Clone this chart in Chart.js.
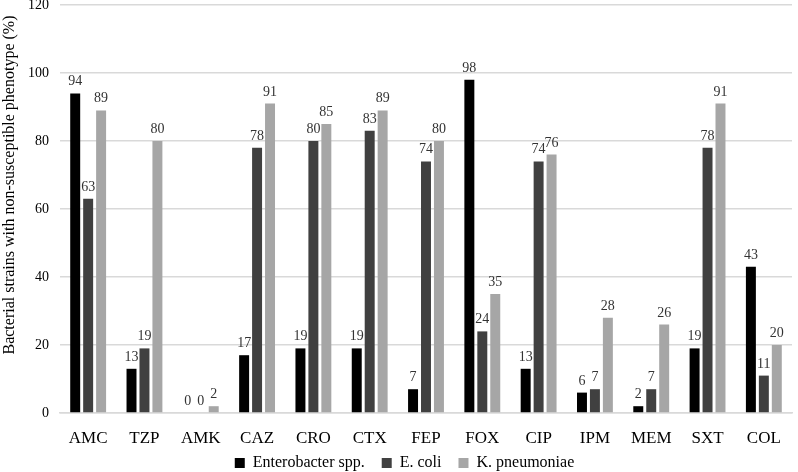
<!DOCTYPE html>
<html>
<head>
<meta charset="utf-8">
<script src="https://cdn.jsdelivr.net/npm/chart.js@4/dist/chart.umd.min.js"></script>
<style>
  html, body { margin: 0; padding: 0; background: #fff; }
  #wrap { width: 798px; height: 472px; position: relative; }
</style>
</head>
<body>
<div id="wrap"><canvas id="c"></canvas></div>
<script>
// ── Dados ───────────────────────────────────────────────
const categorias = ['AMC', 'TZP', 'AMK', 'CAZ', 'CRO', 'CTX', 'FEP', 'FOX', 'CIP', 'IPM', 'MEM', 'SXT', 'COL'];
const enterobacter = [94, 13, 0, 17, 19, 19, 7, 98, 13, 6, 2, 19, 43];
const ecoli =        [63, 19, 0, 78, 80, 83, 74, 24, 74, 7, 7, 78, 11];
const kpneumoniae =  [89, 80, 2, 91, 85, 89, 80, 35, 76, 28, 26, 91, 20];
const yTicks = [0, 20, 40, 60, 80, 100, 120];
const yTitulo = 'Bacterial strains with non-susceptible phenotype (%)';

const FONT = '"Liberation Serif", "Times New Roman", serif';

// ── Rótulos acima das barras ────────────────────────────
const valueLabels = {
  id: 'valueLabels',
  afterDatasetsDraw(chart) {
    const ctx = chart.ctx;
    ctx.save();
    ctx.font = '14px ' + FONT;
    ctx.fillStyle = '#333';
    ctx.textAlign = 'center';
    ctx.textBaseline = 'alphabetic';
    chart.data.datasets.forEach((ds, i) => {
      chart.getDatasetMeta(i).data.forEach((bar, j) => {
        ctx.fillText(String(ds.data[j]), bar.x, bar.y - 8);
      });
    });
    ctx.restore();
  }
};

// ── Título do eixo Y (desenhado à mão p/ posicionar como no original) ──
const yTitle = {
  id: 'yTitle',
  afterDraw(chart) {
    const ctx = chart.ctx;
    ctx.save();
    ctx.font = '16px ' + FONT;
    ctx.fillStyle = '#000';
    ctx.textAlign = 'center';
    ctx.textBaseline = 'middle';
    ctx.translate(10, 185);
    ctx.rotate(-Math.PI / 2);
    ctx.fillText(yTitulo, 0, 0);
    ctx.restore();
  }
};

new Chart(document.getElementById('c'), {
  type: 'bar',
  data: {
    labels: categorias,
    datasets: [
      { label: 'Enterobacter spp.', data: enterobacter, backgroundColor: '#000000' },
      { label: 'E. coli', data: ecoli, backgroundColor: '#404040' },
      { label: 'K. pneumoniae', data: kpneumoniae, backgroundColor: '#a6a6a6' },
    ]
  },
  options: {
    responsive: true,
    maintainAspectRatio: false,
    animation: false,
    devicePixelRatio: 1,
    layout: { padding: { top: 5, right: 6, left: 17, bottom: 0 } },
    datasets: { bar: { barPercentage: 0.77, categoryPercentage: 0.69 } },
    plugins: {
      legend: {
        position: 'bottom',
        maxHeight: 26,
        labels: {
          color: '#000', boxWidth: 10, boxHeight: 10, padding: 9,
          font: { size: 16, family: FONT },
          // espaços extras p/ afastar os itens sem aumentar a altura da legenda
          generateLabels: chart => {
            const items = Chart.defaults.plugins.legend.labels.generateLabels(chart);
            items.forEach((it, i) => { if (i < items.length - 1) it.text += '  '; });
            return items;
          }
        }
      },
      tooltip: { enabled: false }
    },
    scales: {
      x: {
        grid: { display: false, drawTicks: false },
        border: { color: '#d9d9d9', width: 1.5 },
        ticks: { color: '#000', font: { size: 17, family: FONT }, padding: 15 },
        afterFit: axis => { axis.height = 33; }
      },
      y: {
        min: 0, max: 120,
        afterBuildTicks: axis => { axis.ticks = yTicks.map(v => ({ value: v })); },
        afterFit: axis => { axis.paddingTop = 0; axis.paddingBottom = 0; },
        grid: { color: '#d9d9d9', lineWidth: 1.5, drawTicks: false },
        border: { display: false },
        ticks: { color: '#000', font: { size: 14, family: FONT }, padding: 11 }
      }
    }
  },
  plugins: [valueLabels, yTitle]
});
</script>
</body>
</html>
